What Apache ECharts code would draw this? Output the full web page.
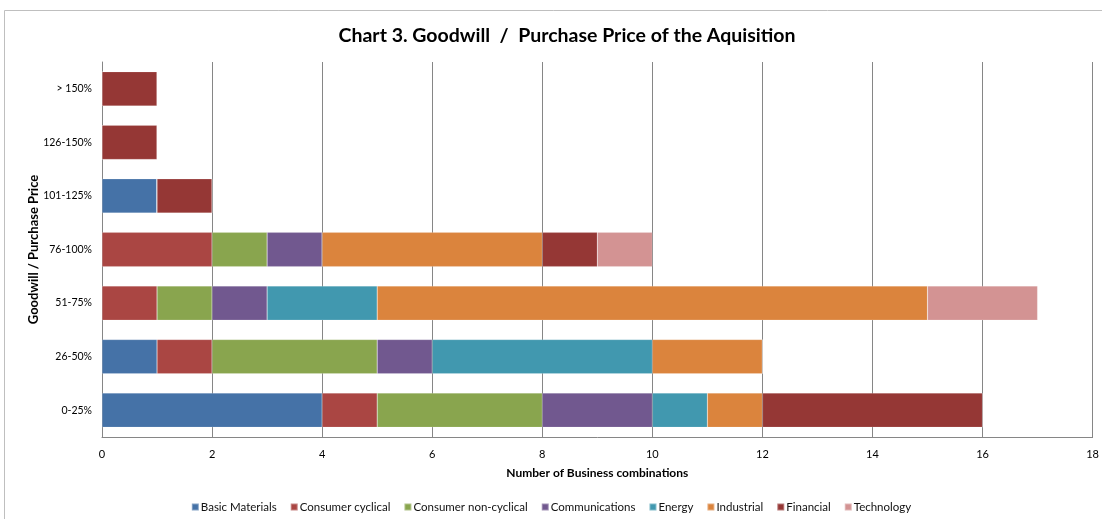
<!DOCTYPE html>
<html>
<head>
<meta charset="utf-8">
<script src="https://cdn.jsdelivr.net/npm/echarts@6/dist/echarts.min.js"></script>
<style>html,body{margin:0;padding:0;background:#fff;}#c{width:1102px;height:519px;}</style>
</head>
<body>
<div id="c"></div>
<script>
const categories = ['0-25%', '26-50%', '51-75%', '76-100%', '101-125%', '126-150%', '> 150%'];
const seriesNames = ['Basic Materials', 'Consumer cyclical', 'Consumer non-cyclical', 'Communications', 'Energy', 'Industrial', 'Financial', 'Technology'];
const basicMaterials      = [4, 1, 0, 0, 1, 0, 0];
const consumerCyclical    = [1, 1, 1, 2, 0, 0, 0];
const consumerNonCyclical = [3, 3, 1, 1, 0, 0, 0];
const communications      = [2, 1, 1, 1, 0, 0, 0];
const energy              = [1, 4, 2, 0, 0, 0, 0];
const industrial          = [1, 2, 10, 4, 0, 0, 0];
const financial           = [4, 0, 0, 1, 1, 1, 1];
const technology          = [0, 0, 2, 1, 0, 0, 0];
const xTicks = [0, 2, 4, 6, 8, 10, 12, 14, 16, 18];

const values = [basicMaterials, consumerCyclical, consumerNonCyclical, communications, energy, industrial, financial, technology];
const colors = ['#4572A7', '#AA4643', '#89A54E', '#71588F', '#4198AF', '#DB843D', '#953735', '#D39393'];
const font = 'Lato, "Open Sans", sans-serif';

const chart = echarts.init(document.getElementById('c'), null, {renderer: 'canvas'});
chart.setOption({
  animation: false,
  backgroundColor: '#fff',
  color: colors,
  title: {
    text: 'Chart 3. Goodwill  /  Purchase Price of the Aquisition',
    left: 562, top: 21, textAlign: 'center',
    textStyle: {fontFamily: font, fontSize: 19.5, fontWeight: 'bold', color: '#000'}
  },
  graphic: [{
    type: 'polyline', silent: true,
    shape: {points: [[4.5, 519], [4.5, 10.5], [1102, 10.5]]},
    style: {stroke: '#BFBFBF', lineWidth: 1, fill: null}
  }],
  legend: {
    bottom: 1, left: 'center', itemWidth: 7, itemHeight: 7, itemGap: 13,
    icon: 'rect',
    textStyle: {fontFamily: font, fontSize: 11.5, color: '#111', padding: [0, 0, 0, -3]},
    data: seriesNames
  },
  grid: {left: 102, right: 6, top: 62, bottom: 82, containLabel: false},
  xAxis: {
    type: 'value', min: 0, max: 18, interval: 2,
    name: 'Number of Business combinations', nameLocation: 'middle', nameGap: 30,
    nameTextStyle: {fontFamily: font, fontSize: 12, fontWeight: 'bold', color: '#000'},
    axisLine: {show: true, lineStyle: {color: '#868686'}},
    axisTick: {show: false},
    axisLabel: {fontFamily: font, fontSize: 11, color: '#000', margin: 12,
      formatter: v => xTicks.includes(v) ? String(v) : ''},
    splitLine: {show: true, lineStyle: {color: '#868686', width: 1}}
  },
  yAxis: {
    type: 'category', data: categories,
    name: 'Goodwill / Purchase Price', nameLocation: 'middle', nameGap: 62,
    nameMoveOverlap: false,
    nameTextStyle: {fontFamily: font, fontSize: 13, fontWeight: 'bold', color: '#000'},
    axisLine: {show: true, lineStyle: {color: '#868686'}},
    axisTick: {show: false},
    axisLabel: {fontFamily: font, fontSize: 10.5, color: '#000', margin: 10}
  },
  series: seriesNames.map((n, i) => ({
    name: n, type: 'bar', stack: 'total', barCategoryGap: '36%',
    data: values[i],
    itemStyle: {color: colors[i], borderColor: 'rgba(255,255,255,0.35)', borderWidth: 0.5}
  }))
});
</script>
</body>
</html>
